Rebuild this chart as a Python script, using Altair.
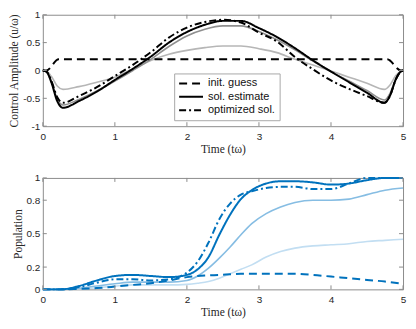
import altair as alt
import pandas as pd

# ---------------- data: control amplitude (top panel) ----------------
t_ctrl = [0, 0.05, 0.12, 0.2, 0.28, 0.5, 0.75, 1.0, 1.25, 1.5, 1.75, 2.0, 2.25,
          2.5, 2.75, 3.0, 3.25, 3.5, 3.75, 4.0, 4.25, 4.5, 4.74, 4.82, 4.9, 4.96, 5.0]
u_sol = [0, -0.02, -0.22, -0.55, -0.67, -0.55, -0.38, -0.17, 0.03, 0.25, 0.5, 0.69,
         0.82, 0.89, 0.89, 0.76, 0.6, 0.4, 0.18, -0.02, -0.21, -0.4, -0.58, -0.45, -0.16, -0.03, 0]
u_opt = [0, -0.02, -0.19, -0.48, -0.58, -0.46, -0.3, -0.1, 0.1, 0.33, 0.59, 0.77,
         0.87, 0.91, 0.86, 0.68, 0.52, 0.24, 0.02, -0.18, -0.33, -0.46, -0.58, -0.45, -0.16, -0.03, 0]
u_gray_mid = [0, -0.02, -0.2, -0.51, -0.62, -0.52, -0.37, -0.19, 0.0, 0.2, 0.43, 0.62,
              0.74, 0.8, 0.8, 0.7, 0.55, 0.37, 0.17, -0.02, -0.19, -0.36, -0.53, -0.41, -0.15, -0.03, 0]
u_gray_light = [0, -0.01, -0.11, -0.28, -0.34, -0.29, -0.21, -0.12, 0.03, 0.18, 0.29, 0.36,
                0.41, 0.44, 0.44, 0.39, 0.32, 0.2, 0.1, -0.01, -0.12, -0.23, -0.34, -0.26, -0.09, -0.02, 0]
t_init_ctrl = [0, 0.05, 0.22, 4.78, 4.97, 5.0]
u_init = [0, 0.0, 0.2, 0.2, 0.0, 0.0]

# ---------------- data: population (bottom panel) ----------------
t_pop = [0, 0.25, 0.5, 0.75, 1.0, 1.25, 1.5, 1.75, 2.0, 2.15, 2.3, 2.45, 2.6, 2.75,
         2.9, 3.1, 3.3, 3.5, 3.75, 4.0, 4.25, 4.5, 4.75, 5.0]
p_sol = [0, 0.0, 0.03, 0.08, 0.12, 0.13, 0.12, 0.11, 0.13, 0.18, 0.29, 0.49, 0.67, 0.81,
         0.89, 0.95, 0.97, 0.97, 0.96, 0.94, 0.95, 0.98, 1.0, 1.0]
p_opt = [0, 0.0, 0.02, 0.06, 0.09, 0.09, 0.08, 0.09, 0.15, 0.25, 0.42, 0.63, 0.77, 0.85,
         0.88, 0.91, 0.92, 0.92, 0.9, 0.9, 0.95, 1.0, 1.0, 1.0]
p_init = [0, 0.0, 0.005, 0.012, 0.025, 0.04, 0.055, 0.08, 0.11, 0.12, 0.125, 0.13, 0.135,
          0.14, 0.14, 0.14, 0.14, 0.14, 0.13, 0.115, 0.1, 0.085, 0.07, 0.05]
p_blue_mid = [0, 0.0, 0.01, 0.03, 0.05, 0.065, 0.065, 0.065, 0.08, 0.12, 0.19, 0.28, 0.38,
              0.49, 0.59, 0.68, 0.74, 0.78, 0.8, 0.8, 0.81, 0.85, 0.89, 0.91]
p_blue_light = [0, 0.0, 0.005, 0.015, 0.03, 0.04, 0.04, 0.04, 0.045, 0.055, 0.07, 0.1,
                0.14, 0.18, 0.22, 0.29, 0.34, 0.37, 0.39, 0.4, 0.41, 0.43, 0.44, 0.45]

names = ["init. guess", "sol. estimate", "optimized sol."]
x_ticks = [0, 1, 2, 3, 4, 5]
y_ticks_top = [-1, -0.5, 0, 0.5, 1]
y_ticks_bot = [0, 0.2, 0.5, 0.8, 1]


def rows(t, vals, name):
    return [{"t": a, "v": b, "series": name} for a, b in zip(t, vals)]


df_ctrl_main = pd.DataFrame(rows(t_init_ctrl, u_init, names[0]) + rows(t_ctrl, u_sol, names[1])
                            + rows(t_ctrl, u_opt, names[2]))
df_pop_main = pd.DataFrame(rows(t_pop, p_init, names[0]) + rows(t_pop, p_sol, names[1])
                           + rows(t_pop, p_opt, names[2]))
faint_ctrl = [(pd.DataFrame(rows(t_ctrl, u_gray_light, "g1")), "#b6b6b6"),
              (pd.DataFrame(rows(t_ctrl, u_gray_mid, "g2")), "#8f8f8f")]
faint_pop = [(pd.DataFrame(rows(t_pop, p_blue_light, "b1")), "#c2def2"),
             (pd.DataFrame(rows(t_pop, p_blue_mid, "b2")), "#86bde3")]

W, H = 362, 112
AX = "#8c8c8c"
BLUE = "#0072BD"
DASHES = [[8, 5], [1, 0], [7, 3, 2, 3]]

x_scale = alt.Scale(domain=[0, 5], nice=False, zero=False, padding=0)


def panel(df_main, faint, main_color, ytitle, ydomain, yticks, legend_xy):
    y_scale = alt.Scale(domain=ydomain, nice=False, zero=False, padding=0)
    X = alt.X("t:Q", scale=x_scale,
              axis=alt.Axis(values=x_ticks, title="Time (tω)", ticks=False, domain=False,
                            grid=False, labelPadding=5, titlePadding=2, labelFlush=False,
                            labelExpr="'' + datum.value"))
    Y = alt.Y("v:Q", scale=y_scale,
              axis=alt.Axis(values=yticks, title=ytitle, ticks=False, domain=False,
                            grid=False, labelPadding=3, titlePadding=3, labelFlush=False,
                            labelExpr="'' + datum.value"))
    layers = []
    for df_f, col in faint:
        layers.append(alt.Chart(df_f).mark_line(interpolate="monotone", strokeWidth=1.6,
                                                color=col).encode(x=X, y=Y))
    main = alt.Chart(df_main).mark_line(interpolate="monotone", strokeWidth=2,
                                         color=main_color).encode(
        x=X, y=Y,
        strokeDash=alt.StrokeDash(
            "series:N", sort=names,
            scale=alt.Scale(domain=names, range=DASHES),
            legend=alt.Legend(title=None, orient="none", legendX=legend_xy[0],
                              legendY=legend_xy[1], symbolType="stroke", symbolSize=576,
                              symbolStrokeWidth=2, symbolStrokeColor=main_color,
                              clipHeight=12,
                              labelFont="Liberation Sans", labelFontSize=11,
                              labelColor="#111111", strokeColor="#a8a8a8",
                              fillColor="white", padding=4, rowPadding=1.5, labelOffset=4)))
    layers.append(main)
    xt = pd.DataFrame({"t": x_ticks})
    yt = pd.DataFrame({"v": yticks})
    layers.append(alt.Chart(xt).mark_rule(color=AX).encode(x=X, y=alt.value(H), y2=alt.value(H - 4)))
    layers.append(alt.Chart(xt).mark_rule(color=AX).encode(x=X, y=alt.value(0), y2=alt.value(4)))
    layers.append(alt.Chart(yt).mark_rule(color=AX).encode(y=Y, x=alt.value(0), x2=alt.value(4)))
    layers.append(alt.Chart(yt).mark_rule(color=AX).encode(y=Y, x=alt.value(W), x2=alt.value(W - 4)))
    return alt.layer(*layers).properties(width=W, height=H)


top = panel(df_ctrl_main, faint_ctrl, "black",
            "Control Amplitude (u/ω)", [-1, 1], y_ticks_top, (132, 59))
bottom = panel(df_pop_main, faint_pop, BLUE,
               "Population", [0, 1], y_ticks_bot, (6, 3))

chart = alt.vconcat(top, bottom, spacing=52, bounds="flush").properties(
    padding={"left": 0, "top": 0, "right": 0, "bottom": 0}
).configure_view(stroke=AX, strokeWidth=1).configure_axis(
    labelFont="Liberation Sans", labelFontSize=10, labelColor="#262626",
    titleFont="Liberation Serif", titleFontSize=11.5, titleFontWeight="normal",
    titleColor="#262626"
)

chart.save("out.html", embed_options={"renderer": "svg", "actions": False})
